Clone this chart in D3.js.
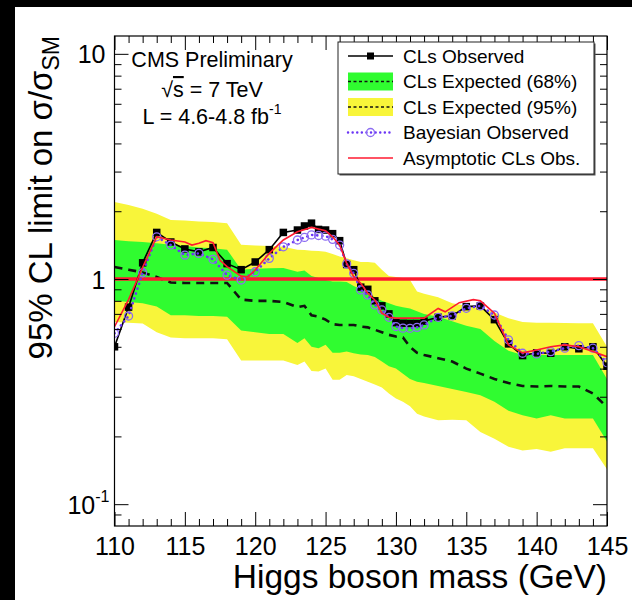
<!DOCTYPE html>
<html><head><meta charset="utf-8">
<script src="https://cdn.jsdelivr.net/npm/d3@7"></script>
<style>body{margin:0;background:#000;} svg{display:block} text{font-family:"Liberation Sans",Arial,Helvetica,sans-serif;}</style>
</head><body><svg id="c" width="632" height="600"></svg>
<script>
// ---- data ----
const mass = [110,111,112,113,114,115,116,117,118,119,120,121,122,123,123.5,124,124.5,125,125.5,126,126.5,127,127.5,128,128.5,129,129.5,130,130.5,131,131.5,132,133,134,135,136,137,138,139,140,141,142,143,144,145];
const observed = [0.50,0.75,1.18,1.61,1.46,1.36,1.32,1.38,1.17,1.10,1.19,1.35,1.61, 1.65,1.72,1.77,1.66,1.65,1.59,1.48,1.16,1.10,0.92,0.90,0.80,0.76,0.70,0.64,0.636,0.635,0.635,0.65, 0.676,0.686,0.754,0.76,0.66,0.515,0.457,0.47,0.468,0.50,0.49,0.50,0.41];
const bayesian = [0.574,0.685,1.066,1.54,1.415,1.277,1.30,1.223,1.04,0.99,1.077,1.235,1.39, 1.49,1.53,1.57,1.56,1.55,1.50,1.415,1.166,1.06,0.894,0.849,0.767,0.729,0.676,0.615,0.605,0.604,0.61,0.625, 0.676,0.686,0.741,0.76,0.692,0.537,0.468,0.465,0.476,0.493,0.506,0.493,0.425];
const expMedian = [1.13,1.10,1.07,1.02,0.965,0.96,0.96,0.96,0.96,0.81,0.80,0.80,0.79, 0.75,0.76,0.69,0.68,0.66,0.63,0.625,0.625,0.625,0.615,0.61,0.595,0.58,0.565,0.555,0.55,0.50,0.47,0.46, 0.445,0.43,0.40,0.38,0.36,0.345,0.335,0.333,0.335,0.333,0.333,0.31,0.27];
const exp68Hi = [1.49,1.47,1.46,1.44,1.42,1.40,1.38,1.37,1.35,1.10,1.11,1.115,1.12, 1.077,1.09,1.03,1.01,0.99,0.975,0.975,0.97,0.93,0.90,0.86,0.83,0.80,0.78,0.76,0.75,0.74,0.72,0.70, 0.68,0.65,0.62,0.60,0.53,0.48,0.46,0.46,0.46,0.46,0.46,0.46,0.36];
const exp68Lo = [0.80,0.79,0.78,0.755,0.69,0.69,0.685,0.685,0.68,0.59,0.58,0.57,0.57, 0.52,0.545,0.50,0.493,0.51,0.47,0.47,0.476,0.468,0.462,0.46,0.45,0.43,0.41,0.40,0.38,0.36,0.35,0.345, 0.335,0.325,0.315,0.305,0.285,0.26,0.248,0.24,0.248,0.24,0.24,0.24,0.19];
const exp95Hi = [2.20,2.13,2.05,1.95,1.83,1.82,1.80,1.79,1.77,1.42,1.41,1.40,1.39, 1.35,1.345,1.335,1.33,1.32,1.29,1.26,1.235,1.21,1.19,1.19,1.18,1.10,1.03,1.02,1.01,0.99,0.88,0.86, 0.83,0.78,0.76,0.75,0.71,0.67,0.645,0.64,0.64,0.638,0.636,0.636,0.50];
const exp95Lo = [0.645,0.64,0.635,0.58,0.55,0.545,0.545,0.545,0.54,0.435,0.435,0.435,0.435, 0.415,0.43,0.39,0.388,0.40,0.357,0.357,0.375,0.37,0.36,0.35,0.34,0.33,0.31,0.295,0.285,0.272,0.252,0.245, 0.236,0.237,0.236,0.209,0.195,0.18,0.173,0.176,0.171,0.177,0.177,0.177,0.143];
const asymMass = [110,111,112,113,114,115,115.5,116,116.5,117,117.5,118,119,119.5,120,121,122,123,124,125,125.5,126,126.5,127,127.5,128,128.5,129,129.5,130,131,132,133,133.5,134.5,135.5,136,137,138,139,140,141,142,143,144,145];
const asymVal = [0.614,0.81,1.127,1.54,1.49,1.46,1.415,1.44,1.48,1.45,1.21,1.134,1.03,1.024,1.096,1.30,1.49,1.62,1.695,1.64,1.54,1.415,1.174,1.024,0.957,0.864,0.807,0.705,0.676,0.67,0.67,0.67,0.74,0.715,0.785,0.81,0.80,0.705,0.51,0.47,0.484,0.50,0.51,0.50,0.476,0.452];
const xMajorTicks = [110,115,120,125,130,135,140,145];
const yMajorTicks = [0.1,1,10];
const legendLabels = ["CLs Observed","CLs Expected (68%)","CLs Expected (95%)","Bayesian Observed","Asymptotic CLs Obs."];
const infoLines = ["CMS Preliminary","√s = 7 TeV","L = 4.6-4.8 fb"];

// ---- styles ----
const YELLOW="#f8f53a", GREEN="#30fc30", RED="#ff1a30", PURPLE="#6b35f5", PURPLE_M="#8c6cf2";
const W=632,H=600;
const svg=d3.select('#c');
svg.append('rect').attr('width',W).attr('height',H).attr('fill','#000');
svg.append('rect').attr('x',15).attr('y',7).attr('width',W-15).attr('height',H-7).attr('fill','#fff');
const m={l:114.5,r:607,t:36,b:526};
const x=d3.scaleLinear().domain([110,145]).range([m.l,m.r]);
const y=d3.scaleLog().domain([0.08,12]).range([m.b,m.t]);

svg.append('clipPath').attr('id','clip').append('rect').attr('x',m.l).attr('y',m.t).attr('width',m.r-m.l).attr('height',m.b-m.t);
const g=svg.append('g').attr('clip-path','url(#clip)');
const band=(lo,hi)=>d3.area().x((d,i)=>x(mass[i])).y0((d,i)=>y(lo[i])).y1((d,i)=>y(hi[i]));
g.append('path').datum(mass).attr('d',band(exp95Lo,exp95Hi)).attr('fill',YELLOW);
g.append('path').datum(mass).attr('d',band(exp68Lo,exp68Hi)).attr('fill',GREEN);
const line=(xs,vs)=>d3.line().x((d,i)=>x(xs[i])).y((d,i)=>y(vs[i]));
g.append('path').datum(mass).attr('d',line(mass,expMedian)).attr('fill','none').attr('stroke','#111').attr('stroke-width',2.6).attr('stroke-dasharray','8,6');
// SM line
g.append('line').attr('x1',m.l).attr('x2',m.r).attr('y1',y(1)).attr('y2',y(1)).attr('stroke',RED).attr('stroke-width',3.5);
// observed
g.append('path').datum(mass).attr('d',line(mass,observed)).attr('fill','none').attr('stroke','#000').attr('stroke-width',1.6);
g.selectAll('rect.obs').data(mass).join('rect').attr('class','obs')
 .attr('x',(d,i)=>x(d)-3.75).attr('y',(d,i)=>y(observed[i])-3.75).attr('width',7.5).attr('height',7.5).attr('fill','#000');
// bayesian
g.append('path').datum(mass).attr('d',line(mass,bayesian)).attr('fill','none').attr('stroke',PURPLE).attr('stroke-width',2.6).attr('stroke-dasharray','0.1,5').attr('stroke-linecap','round');
g.selectAll('circle.bay').data(mass).join('circle').attr('class','bay')
 .attr('cx',d=>x(d)).attr('cy',(d,i)=>y(bayesian[i])).attr('r',4).attr('fill','none').attr('stroke',PURPLE_M).attr('stroke-width',1.3);
// asymptotic
g.append('path').datum(asymMass).attr('d',line(asymMass,asymVal)).attr('fill','none').attr('stroke',RED).attr('stroke-width',1.6);

// ---- axes (ticks inward on all sides) ----
const xMinor=d3.range(110,146,1).filter(v=>v%5!==0);
const yMinor=[0.09,0.2,0.3,0.4,0.5,0.6,0.7,0.8,0.9,2,3,4,5,6,7,8,9];
function ax(gen,scale,vals,size,tr,fmt,pad){
  const a=svg.append('g').attr('transform',tr).call(gen(scale).tickValues(vals).tickSize(-size).tickSizeOuter(0).tickPadding(pad||0).tickFormat(fmt||(()=> '')));
  a.select('.domain').remove();
  a.selectAll('.tick line').attr('stroke','#000').attr('stroke-width',1);
  return a;
}
const xb=ax(d3.axisBottom,x,xMajorTicks,14,`translate(0,${m.b})`,d3.format('d'),11);
xb.selectAll('.tick text').attr('font-size',25).attr('fill','#000');
ax(d3.axisBottom,x,xMinor,7,`translate(0,${m.b})`);
ax(d3.axisTop,x,xMajorTicks,14,`translate(0,${m.t})`);
ax(d3.axisTop,x,xMinor,7,`translate(0,${m.t})`);
const yl=ax(d3.axisLeft,y,yMajorTicks,14,`translate(${m.l},0)`,d=>'',9);
ax(d3.axisLeft,y,yMinor,7,`translate(${m.l},0)`);
ax(d3.axisRight,y,yMajorTicks,14,`translate(${m.r},0)`);
ax(d3.axisRight,y,yMinor,7,`translate(${m.r},0)`);
yl.selectAll('.tick text').each(function(d){
  const t=d3.select(this).attr('font-size',25).attr('fill','#000').attr('dy','0.36em');
  if(d===10) t.text('10');
  else if(d===1) t.text('1');
  else { t.attr('x',-5).text('10'); t.append('tspan').attr('font-size',16).attr('dy','-0.7em').text('-1'); }
});
svg.append('rect').attr('x',m.l).attr('y',m.t).attr('width',m.r-m.l).attr('height',m.b-m.t).attr('fill','none').attr('stroke','#000').attr('stroke-width',1.2);

// axis titles
svg.append('text').attr('x',m.r).attr('y',588).attr('text-anchor','end').attr('font-size',33.5).text('Higgs boson mass (GeV)');
const yt=svg.append('text').attr('transform',`translate(52,${m.t}) rotate(-90)`).attr('text-anchor','end').attr('font-size',33);
yt.append('tspan').text('95% CL limit on σ/σ');
yt.append('tspan').attr('font-size',23).attr('dy','0.3em').text('SM');

// info text
const info=svg.append('g').attr('font-size',21.5).attr('text-anchor','middle');
info.append('text').attr('x',212).attr('y',67).text(infoLines[0]);
const t2=info.append('text').attr('x',212).attr('y',97);
t2.append('tspan').text('√');
t2.append('tspan').attr('text-decoration','overline').text('s');
t2.append('tspan').text(infoLines[1].slice(2));
const t3=info.append('text').attr('x',212).attr('y',124);
t3.append('tspan').text(infoLines[2]);
t3.append('tspan').attr('font-size',14).attr('dy','-0.75em').text('-1');

// legend
const L={x:338,y:42,w:256,h:132};
svg.append('rect').attr('x',L.x+1.5).attr('y',L.y+1.5).attr('width',L.w).attr('height',L.h).attr('fill','#555');
svg.append('rect').attr('x',L.x).attr('y',L.y).attr('width',L.w).attr('height',L.h).attr('fill','#fff').attr('stroke','#222').attr('stroke-width',1);
const ly=d3.scaleLinear().domain([0,4]).range([56,158]);
const sx0=348, sx1=393, sxm=(sx0+sx1)/2;
legendLabels.forEach((lab,i)=>{
  const cy=ly(i);
  if(i===0){
    svg.append('line').attr('x1',sx0).attr('x2',sx1).attr('y1',cy).attr('y2',cy).attr('stroke','#000').attr('stroke-width',1.6);
    svg.append('rect').attr('x',sxm-3.5).attr('y',cy-3.5).attr('width',7).attr('height',7).attr('fill','#000');
  } else if(i===1||i===2){
    svg.append('rect').attr('x',sx0).attr('y',cy-9).attr('width',sx1-sx0).attr('height',18).attr('fill',i===1?GREEN:YELLOW);
    svg.append('line').attr('x1',sx0).attr('x2',sx1).attr('y1',cy).attr('y2',cy).attr('stroke','#111').attr('stroke-width',1.3).attr('stroke-dasharray','3,2.5');
  } else if(i===3){
    svg.append('line').attr('x1',sx0).attr('x2',sx1).attr('y1',cy).attr('y2',cy).attr('stroke',PURPLE).attr('stroke-width',2.4).attr('stroke-dasharray','0.1,4.5').attr('stroke-linecap','round');
    svg.append('circle').attr('cx',sxm).attr('cy',cy).attr('r',4).attr('fill','none').attr('stroke',PURPLE_M).attr('stroke-width',1.3);
  } else {
    svg.append('line').attr('x1',sx0).attr('x2',sx1).attr('y1',cy).attr('y2',cy).attr('stroke',RED).attr('stroke-width',1.6);
  }
  svg.append('text').attr('x',403).attr('y',cy).attr('dy','0.36em').attr('font-size',19).text(lab);
});
</script></body></html>
